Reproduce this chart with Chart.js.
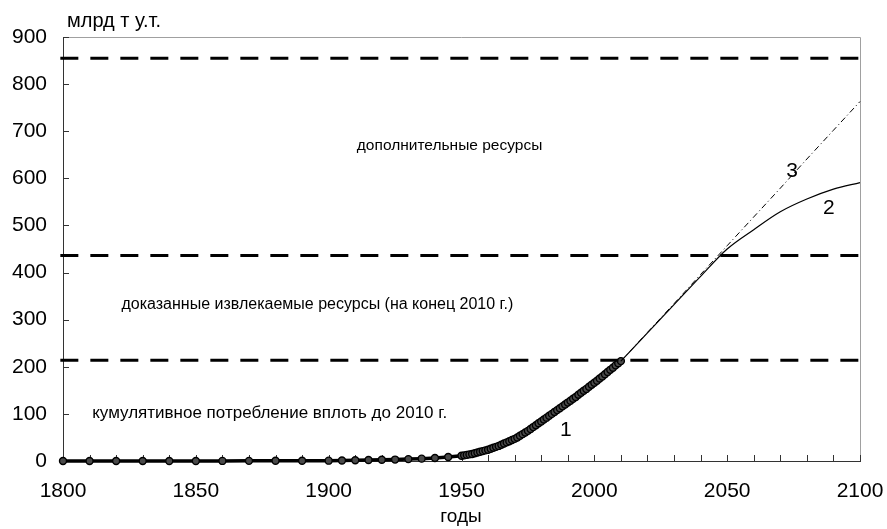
<!DOCTYPE html>
<html>
<head>
<meta charset="utf-8">
<script src="https://cdn.jsdelivr.net/npm/chart.js@4"></script>
<style>
  html, body { margin: 0; padding: 0; background: #fff; }
  #wrap { width: 887px; height: 529px; }
</style>
</head>
<body>
<div id="wrap"><canvas id="myChart" width="887" height="529"></canvas></div>
<script>
// cumulative consumption up to 2010 (series 1)
const histYears = [1800, 1810, 1820, 1830, 1840, 1850, 1860, 1870, 1880, 1890, 1900,
  1905, 1910, 1915, 1920, 1925, 1930, 1935, 1940, 1945, 1950,
  1951, 1952, 1953, 1954, 1955, 1956, 1957, 1958, 1959, 1960,
  1961, 1962, 1963, 1964, 1965, 1966, 1967, 1968, 1969, 1970,
  1971, 1972, 1973, 1974, 1975, 1976, 1977, 1978, 1979, 1980,
  1981, 1982, 1983, 1984, 1985, 1986, 1987, 1988, 1989, 1990,
  1991, 1992, 1993, 1994, 1995, 1996, 1997, 1998, 1999, 2000,
  2001, 2002, 2003, 2004, 2005, 2006, 2007, 2008, 2009, 2010];
const histValues = [0, 0, 0, 0, 0.1, 0.1, 0.2, 0.3, 0.4, 0.5, 0.7,
  1, 1.5, 2, 2.5, 3, 4, 5, 6.5, 8.5, 11,
  12, 13, 14, 15, 16.5, 18, 19.5, 21, 22.5, 24,
  26, 28, 30, 32, 34.5, 37, 39.5, 42, 44.5, 47,
  50, 53.5, 57, 60.5, 64, 68, 72, 76, 80, 84,
  88, 92, 96, 100, 104, 108, 112, 116, 120, 124,
  128, 132, 136, 140.5, 145, 149, 153, 157.5, 162, 166,
  170.5, 175, 179.5, 184, 189, 193.5, 198, 203, 207.5, 212];

// projections (series 2 and 3)
const projYears = [2010, 2020, 2030, 2040, 2050, 2060, 2070, 2080, 2090, 2100];
const projValues2 = [212, 272, 332, 392, 450, 491, 529, 556, 577, 591];
const projValues3 = [212, 273, 334, 396, 457, 518, 579, 641, 702, 763];

// resource boundaries (horizontal dashed lines)
const resourceLevels = [855, 436, 214];

const xTicks = [1800, 1850, 1900, 1950, 2000, 2050, 2100];
const yTicks = [0, 100, 200, 300, 400, 500, 600, 700, 800, 900];

// texts inside the plot, placed in data coordinates
const notes = [
  { text: "дополнительные ресурсы", x: 1945.5, y: 669, align: "center", size: 15.5 },
  { text: "доказанные извлекаемые ресурсы (на конец 2010 г.)", x: 1822, y: 331, align: "left", size: 16 },
  { text: "кумулятивное потребление вплоть до 2010 г.", x: 1811, y: 102, align: "left", size: 17 },
  { text: "1", x: 1989.3, y: 66, align: "center", size: 21 },
  { text: "2", x: 2088.3, y: 537, align: "center", size: 21 },
  { text: "3", x: 2074.4, y: 616, align: "center", size: 21 }
];

const FONT = "Arial, 'Liberation Sans', sans-serif";

const toPoints = (xs, ys) => xs.map((x, i) => ({ x: x, y: ys[i] }));

const levelSets = resourceLevels.map(v => ({
  data: [{ x: 1799, y: v }, { x: 2100, y: v }],
  borderColor: "#000",
  borderWidth: 3,
  borderDash: [18, 12],
  pointRadius: 0,
  fill: false
}));

// frame, inner ticks and free texts
const framePlugin = {
  id: "frame",
  beforeDatasetsDraw(chart) {
    const { ctx, chartArea: a, scales } = chart;
    ctx.save();
    ctx.lineWidth = 1;
    ctx.strokeStyle = "#a0a0a0";
    ctx.beginPath();
    ctx.moveTo(a.left, a.top + 0.5);
    ctx.lineTo(a.right + 0.5, a.top + 0.5);
    ctx.lineTo(a.right + 0.5, a.bottom);
    ctx.stroke();

    ctx.strokeStyle = "#333";
    ctx.beginPath();
    ctx.moveTo(a.left + 0.5, a.top);
    ctx.lineTo(a.left + 0.5, a.bottom + 0.5);
    ctx.lineTo(a.right + 1, a.bottom + 0.5);
    // y ticks pointing inward
    yTicks.forEach(v => {
      const py = Math.round(scales.y.getPixelForValue(v)) + 0.5;
      ctx.moveTo(a.left, py);
      ctx.lineTo(a.left + 6, py);
    });
    // x ticks every 10 years pointing up
    for (let yr = 1800; yr <= 2100; yr += 10) {
      const px = Math.round(scales.x.getPixelForValue(yr)) + 0.5;
      ctx.moveTo(px, a.bottom);
      ctx.lineTo(px, a.bottom - 6);
    }
    ctx.stroke();
    ctx.restore();
  },
  afterDatasetsDraw(chart) {
    const { ctx, chartArea: a, scales } = chart;
    ctx.save();
    ctx.fillStyle = "#000";
    ctx.textBaseline = "middle";
    notes.forEach(n => {
      ctx.font = n.size + "px " + FONT;
      ctx.textAlign = n.align;
      ctx.fillText(n.text, scales.x.getPixelForValue(n.x), scales.y.getPixelForValue(n.y));
    });
    ctx.font = "20px " + FONT;
    ctx.textAlign = "left";
    ctx.fillText("млрд т у.т.", a.left + 4, 21);
    ctx.font = "19px " + FONT;
    ctx.textAlign = "center";
    ctx.fillText("годы", 461, 517);
    ctx.restore();
  }
};

const ctx = document.getElementById("myChart").getContext("2d");
const myChart = new Chart(ctx, {
  type: "line",
  data: {
    datasets: [
      ...levelSets,
      {
        data: toPoints(projYears, projValues3),
        borderColor: "#000",
        borderWidth: 1,
        borderDash: [6, 3, 1, 3],
        pointRadius: 0,
        fill: false
      },
      {
        data: toPoints(projYears, projValues2),
        borderColor: "#000",
        borderWidth: 1.2,
        cubicInterpolationMode: "monotone",
        pointRadius: 0,
        fill: false
      },
      {
        data: toPoints(histYears, histValues),
        borderColor: "#000",
        borderWidth: 3.5,
        pointRadius: 3.5,
        pointBorderWidth: 1.4,
        pointBorderColor: "#000",
        pointBackgroundColor: "#4a4a4a",
        fill: false
      }
    ]
  },
  options: {
    responsive: false,
    animation: false,
    clip: false,
    layout: { padding: { top: 37, right: 27, left: 0, bottom: 0 } },
    plugins: { legend: { display: false }, tooltip: { enabled: false } },
    scales: {
      x: {
        type: "linear",
        min: 1800,
        max: 2100,
        afterBuildTicks: s => { s.ticks = xTicks.map(v => ({ value: v })); },
        afterFit: s => { s.height = 68; s.paddingLeft = 0; s.paddingRight = 0; },
        grid: { display: false, drawTicks: false },
        border: { display: false },
        ticks: {
          color: "#000", padding: 18, maxRotation: 0,
          font: { family: FONT, size: 21 },
          callback: v => String(v)
        }
      },
      y: {
        min: 0,
        max: 900,
        afterBuildTicks: s => { s.ticks = yTicks.map(v => ({ value: v })); },
        afterFit: s => { s.width = 63; s.paddingTop = 0; s.paddingBottom = 0; },
        grid: { display: false, drawTicks: false },
        border: { display: false },
        ticks: {
          color: "#000", padding: 16,
          font: { family: FONT, size: 21 },
          callback: v => String(v)
        }
      }
    }
  },
  plugins: [framePlugin]
});
</script>
</body>
</html>
